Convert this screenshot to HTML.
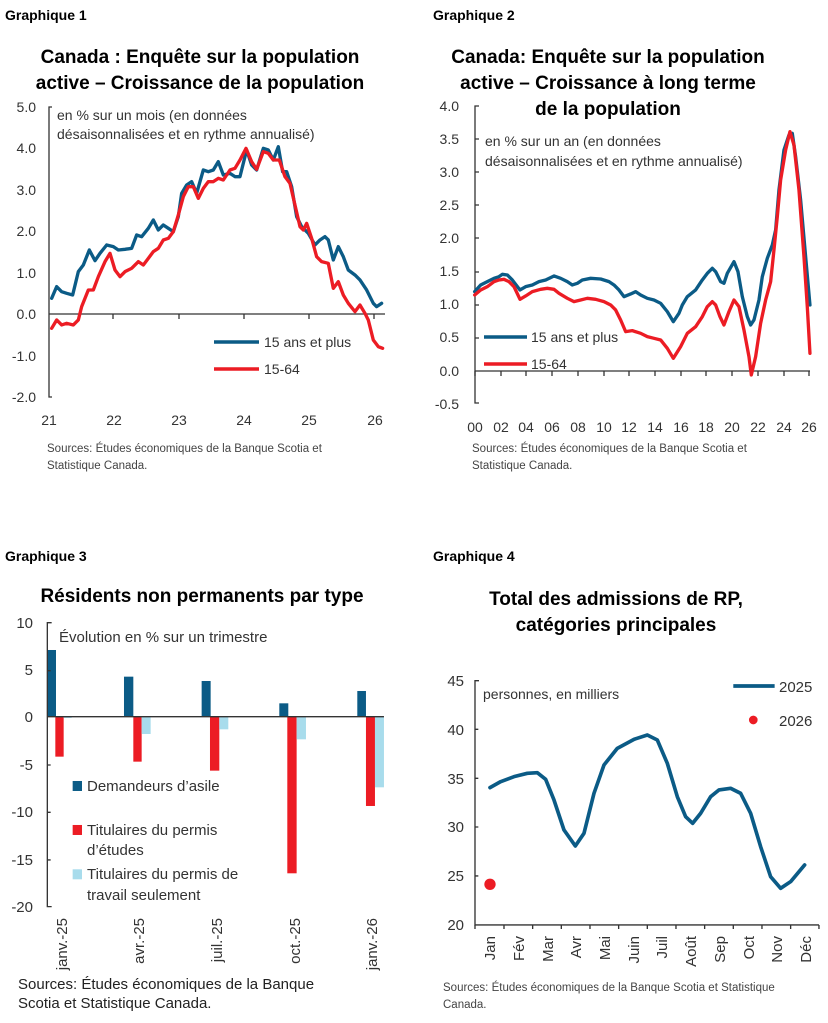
<!DOCTYPE html>
<html><head><meta charset="utf-8"><style>
body{margin:0;background:#fff}
svg{display:block;font-family:"Liberation Sans",sans-serif}
.t{font-weight:bold;fill:#000}
.k{fill:#333}
</style></head><body>
<svg width="828" height="1023" viewBox="0 0 828 1023" xmlns="http://www.w3.org/2000/svg">
<!-- Chart 1 -->
<text x="5" y="20" font-size="14" class="t">Graphique 1</text>
<text x="200" y="63" font-size="19" class="t" text-anchor="middle">Canada : Enquête sur la population</text>
<text x="200" y="89" font-size="19" class="t" text-anchor="middle">active – Croissance de la population</text>
<g class="k" font-size="14" text-anchor="end">
<text x="36" y="112">5.0</text><text x="36" y="153">4.0</text><text x="36" y="195">3.0</text><text x="36" y="236">2.0</text><text x="36" y="278">1.0</text><text x="36" y="319">0.0</text><text x="36" y="361">-1.0</text><text x="36" y="402">-2.0</text>
</g>
<g class="k" font-size="14" text-anchor="middle">
<text x="49" y="425">21</text><text x="114" y="425">22</text><text x="179" y="425">23</text><text x="244" y="425">24</text><text x="309" y="425">25</text><text x="375" y="425">26</text>
</g>
<g stroke="#333" stroke-width="1.3" fill="none">
<path d="M52,107 H49 V397 H52"/><path d="M49,314 H385"/>
<path d="M113,314 v5 M179,314 v5 M244,314 v5 M309,314 v5 M374,314 v5"/>
</g>
<text x="57" y="120" font-size="14" class="k">en % sur un mois (en données</text>
<text x="57" y="139" font-size="14" class="k">désaisonnalisées et en rythme annualisé)</text>
<g transform="translate(0,90) scale(0.3333)" fill="none" stroke-width="10" stroke-linejoin="round" stroke-linecap="round">
<polyline stroke="#0b5b86" points="155,625 170,590 185,605 200,610 218,615 235,545 250,525 268,480 285,512 300,490 320,465 340,470 355,480 375,478 395,475 410,435 425,440 445,415 460,390 475,420 490,405 505,415 520,425 535,380 545,310 560,285 575,275 590,310 610,240 625,245 640,240 655,215 670,255 690,250 705,260 720,260 740,180 755,225 770,240 790,175 805,180 820,210 835,170 848,245 860,245 875,290 890,380 905,410 925,430 945,465 960,450 975,440 985,450 1000,510 1015,470 1030,500 1045,540 1065,555 1080,570 1100,600 1120,640 1130,650 1145,640"/>
<polyline stroke="#ec1c24" points="155,715 170,690 185,705 200,700 220,705 235,690 245,650 265,600 280,600 295,560 315,515 330,490 345,540 360,560 375,545 395,535 415,515 430,525 445,505 460,485 475,475 490,450 505,445 520,425 535,375 550,320 565,290 580,290 595,325 610,295 625,275 640,275 655,265 670,270 690,240 705,235 720,210 738,175 755,215 770,238 790,185 805,190 820,210 838,210 855,260 870,280 885,345 900,410 910,420 920,400 935,445 950,500 965,515 985,520 1000,595 1015,575 1030,615 1045,640 1065,665 1080,645 1095,670 1105,690 1120,750 1135,770 1148,775"/>
</g>
<line x1="214" y1="342" x2="259" y2="342" stroke="#0b5b86" stroke-width="3.5"/>
<line x1="214" y1="369" x2="259" y2="369" stroke="#ec1c24" stroke-width="3.5"/>
<text x="264" y="347" font-size="14" class="k">15 ans et plus</text>
<text x="264" y="374" font-size="14" class="k">15-64</text>
<text x="47" y="452" font-size="11.5" fill="#444">Sources: Études économiques de la Banque Scotia et</text>
<text x="47" y="469" font-size="11.5" fill="#444">Statistique Canada.</text>

<!-- Chart 2 -->
<text x="433" y="20" font-size="14" class="t">Graphique 2</text>
<text x="608" y="63" font-size="19" class="t" text-anchor="middle">Canada: Enquête sur la population</text>
<text x="608" y="89" font-size="19" class="t" text-anchor="middle">active – Croissance à long terme</text>
<text x="608" y="115" font-size="19" class="t" text-anchor="middle">de la population</text>
<g class="k" font-size="14" text-anchor="end">
<text x="459" y="111">4.0</text><text x="459" y="144">3.5</text><text x="459" y="177">3.0</text><text x="459" y="210">2.5</text><text x="459" y="243">2.0</text><text x="459" y="276">1.5</text><text x="459" y="309">1.0</text><text x="459" y="342">0.5</text><text x="459" y="376">0.0</text><text x="459" y="409">-0.5</text>
</g>
<g class="k" font-size="14" text-anchor="middle">
<text x="475" y="432">00</text><text x="501" y="432">02</text><text x="526" y="432">04</text><text x="552" y="432">06</text><text x="578" y="432">08</text><text x="604" y="432">10</text><text x="629" y="432">12</text><text x="655" y="432">14</text><text x="681" y="432">16</text><text x="706" y="432">18</text><text x="732" y="432">20</text><text x="758" y="432">22</text><text x="784" y="432">24</text><text x="809" y="432">26</text>
</g>
<g stroke="#333" stroke-width="1.3" fill="none">
<path d="M479,106 H475 V403 H479"/><path d="M475,371 H810"/>
<path d="M475,371v5M501,371v5M526,371v5M552,371v5M578,371v5M604,371v5M629,371v5M655,371v5M681,371v5M706,371v5M732,371v5M758,371v5M784,371v5M809,371v5"/>
<path d="M475,139h4M475,172h4M475,205h4M475,238h4M475,272h4M475,305h4M475,338h4"/>
</g>
<text x="485" y="146" font-size="14" class="k">en % sur un an (en données</text>
<text x="485" y="166" font-size="14" class="k">désaisonnalisées et en rythme annualisé)</text>
<g transform="translate(414,90) scale(0.3333)" fill="none" stroke-width="10" stroke-linejoin="round" stroke-linecap="round">
<polyline stroke="#0b5b86" points="182,605 200,585 220,575 240,565 255,560 265,553 280,555 295,570 318,600 335,590 355,585 375,575 395,570 420,558 440,565 460,575 475,585 490,580 505,570 530,565 560,567 585,575 600,585 615,600 630,620 650,612 665,605 680,615 700,625 720,630 740,640 760,665 778,695 795,670 805,645 820,620 845,600 865,570 880,550 895,535 905,545 920,575 930,580 940,550 960,515 972,545 985,620 1000,680 1010,705 1020,690 1035,630 1045,560 1060,505 1075,465 1085,420 1095,300 1110,180 1125,135 1135,130 1145,200 1160,330 1175,500 1188,645"/>
<polyline stroke="#ec1c24" points="182,615 200,600 220,590 240,575 255,570 270,568 285,575 300,590 318,628 335,618 355,605 380,598 400,595 420,598 435,610 460,625 480,635 500,630 520,625 545,628 570,635 590,645 605,660 620,690 635,725 655,722 680,730 700,740 720,745 740,750 760,775 778,805 800,770 820,730 845,710 865,680 880,650 895,635 905,645 918,680 930,705 945,665 960,630 975,650 990,720 1005,800 1012,855 1025,800 1040,700 1055,630 1070,575 1080,480 1090,380 1100,270 1115,180 1128,125 1140,165 1155,300 1170,500 1180,650 1188,790"/>
</g>
<line x1="484" y1="337" x2="527" y2="337" stroke="#0b5b86" stroke-width="3.5"/>
<line x1="484" y1="364" x2="527" y2="364" stroke="#ec1c24" stroke-width="3.5"/>
<text x="531" y="342" font-size="14" class="k">15 ans et plus</text>
<text x="531" y="369" font-size="14" class="k">15-64</text>
<text x="472" y="452" font-size="11.5" fill="#444">Sources: Études économiques de la Banque Scotia et</text>
<text x="472" y="469" font-size="11.5" fill="#444">Statistique Canada.</text>

<!-- Chart 3 -->
<text x="5" y="561" font-size="14" class="t">Graphique 3</text>
<text x="202" y="602" font-size="19" class="t" text-anchor="middle">Résidents non permanents par type</text>
<g class="k" font-size="15" text-anchor="end">
<text x="33" y="628">10</text><text x="33" y="675">5</text><text x="33" y="722">0</text><text x="33" y="770">-5</text><text x="33" y="817">-10</text><text x="33" y="865">-15</text><text x="33" y="912">-20</text>
</g>
<g transform="translate(0,610) scale(0.3333)">
<g fill="#0b5b86"><rect x="142" y="120" width="26" height="200"/><rect x="372" y="200" width="28" height="120"/><rect x="605" y="213" width="27" height="107"/><rect x="838" y="280" width="27" height="40"/><rect x="1072" y="243" width="26" height="77"/></g>
<g fill="#ec1c24"><rect x="166" y="320" width="25" height="120"/><rect x="400" y="320" width="25" height="135"/><rect x="630" y="320" width="28" height="162"/><rect x="862" y="320" width="28" height="470"/><rect x="1098" y="320" width="27" height="268"/></g>
<g fill="#a8dcec"><rect x="191" y="320" width="24" height="4"/><rect x="425" y="320" width="27" height="52"/><rect x="658" y="320" width="27" height="38"/><rect x="890" y="320" width="28" height="68"/><rect x="1125" y="320" width="27" height="212"/></g>
<g stroke="#333" stroke-width="4" fill="none"><path d="M155,38 H142 V890 H155"/><path d="M142,320 H1152"/><path d="M142,182h10M142,465h10M142,607h10M142,750h10"/></g>
<rect x="218" y="513" width="28" height="30" fill="#0b5b86"/>
<rect x="218" y="645" width="28" height="30" fill="#ec1c24"/>
<rect x="218" y="778" width="28" height="30" fill="#a8dcec"/>
</g>
<text x="59" y="642" font-size="15" class="k">Évolution en % sur un trimestre</text>
<g font-size="15" class="k">
<text x="87" y="791">Demandeurs d’asile</text>
<text x="87" y="835">Titulaires du permis</text>
<text x="87" y="855">d’études</text>
<text x="87" y="879">Titulaires du permis de</text>
<text x="87" y="900">travail seulement</text>
</g>
<g font-size="15" class="k" text-anchor="end">
<text transform="translate(67,918) rotate(-90)">janv.-25</text>
<text transform="translate(144,918) rotate(-90)">avr.-25</text>
<text transform="translate(222,918) rotate(-90)">juil.-25</text>
<text transform="translate(300,918) rotate(-90)">oct.-25</text>
<text transform="translate(377,918) rotate(-90)">janv.-26</text>
</g>
<text x="18" y="989" font-size="15" fill="#222">Sources: Études économiques de la Banque</text>
<text x="18" y="1008" font-size="15" fill="#222">Scotia et Statistique Canada.</text>

<!-- Chart 4 -->
<text x="433" y="561" font-size="14" class="t">Graphique 4</text>
<text x="616" y="605" font-size="19" class="t" text-anchor="middle">Total des admissions de RP,</text>
<text x="616" y="631" font-size="19" class="t" text-anchor="middle">catégories principales</text>
<g class="k" font-size="15" text-anchor="end">
<text x="464" y="686">45</text><text x="464" y="735">40</text><text x="464" y="784">35</text><text x="464" y="832">30</text><text x="464" y="881">25</text><text x="464" y="930">20</text>
</g>
<g transform="translate(414,660) scale(0.3333)">
<g stroke="#333" stroke-width="4" fill="none"><path d="M195,62 H183 V795 H1215"/>
<path d="M183,208h10M183,355h10M183,501h10M183,648h10"/>
<path d="M183,795v12M270,795v12M356,795v12M442,795v12M528,795v12M614,795v12M700,795v12M786,795v12M872,795v12M958,795v12M1044,795v12M1130,795v12M1215,795v12"/></g>
<polyline fill="none" stroke="#0b5b86" stroke-width="11" stroke-linejoin="round" stroke-linecap="round" points="228,383 260,365 300,350 340,340 370,338 395,358 420,420 450,510 484,558 510,520 540,400 570,315 610,265 660,238 700,225 730,240 760,310 790,410 815,470 836,490 860,460 890,410 915,390 950,385 980,400 1010,460 1040,560 1070,650 1100,685 1130,665 1172,615"/>
<circle cx="228" cy="673" r="17" fill="#ec1c24"/>
<line x1="958" y1="78" x2="1082" y2="78" stroke="#0b5b86" stroke-width="11"/>
<circle cx="1018" cy="180" r="13" fill="#ec1c24"/>
</g>
<text x="483" y="699" font-size="14" class="k">personnes, en milliers</text>
<text x="779" y="692" font-size="15" class="k">2025</text>
<text x="779" y="726" font-size="15" class="k">2026</text>
<g font-size="15" class="k" text-anchor="end">
<text transform="translate(495,936) rotate(-90)">Jan</text>
<text transform="translate(524,936) rotate(-90)">Fév</text>
<text transform="translate(553,936) rotate(-90)">Mar</text>
<text transform="translate(581,936) rotate(-90)">Avr</text>
<text transform="translate(610,936) rotate(-90)">Mai</text>
<text transform="translate(639,936) rotate(-90)">Juin</text>
<text transform="translate(667,936) rotate(-90)">Juil</text>
<text transform="translate(696,936) rotate(-90)">Août</text>
<text transform="translate(725,936) rotate(-90)">Sep</text>
<text transform="translate(754,936) rotate(-90)">Oct</text>
<text transform="translate(782,936) rotate(-90)">Nov</text>
<text transform="translate(811,936) rotate(-90)">Déc</text>
</g>
<text x="443" y="991" font-size="11.5" fill="#444">Sources: Études économiques de la Banque Scotia et Statistique</text>
<text x="443" y="1008" font-size="11.5" fill="#444">Canada.</text>
</svg>
</body></html>
